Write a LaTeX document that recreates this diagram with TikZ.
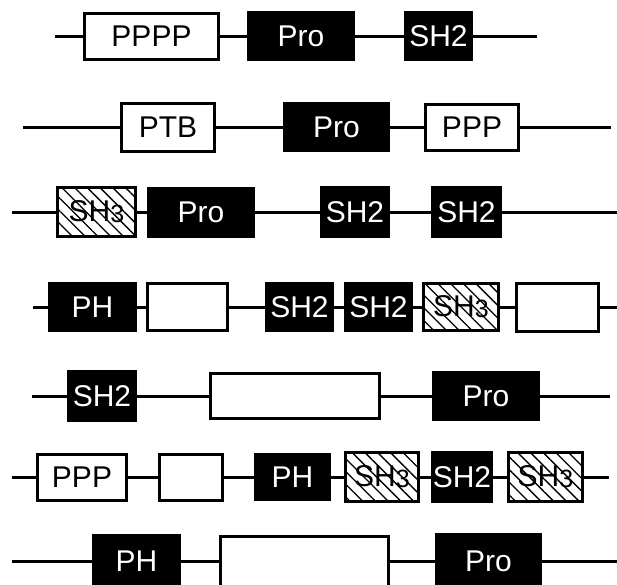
\documentclass[tikz,border=0pt]{standalone}
\usepackage{fontspec}
\setmainfont{Liberation Sans}
\usetikzlibrary{patterns.meta}
\newlength{\du}
\setlength{\du}{1pt}
\newcommand{\domfont}{\fontsize{30}{32}\selectfont}
\newcommand{\shthree}{SH\raisebox{-1\du}{\fontsize{25}{26}\selectfont 3}}
\tikzset{
  boxsize/.style 2 args={minimum width=#1\du, minimum height=#2\du},
  openbox/.style={draw=black, line width=3\du, fill=white, inner sep=0pt, text=black, font=\domfont},
  darkbox/.style={openbox, fill=black, text=white},
  hatchbox/.style={openbox, preaction={fill=white}, pattern={Lines[angle=-45,distance=9pt,line width=1.3pt]}, pattern color=black},
  backbone/.style={draw=black, line width=3\du}
}

\begin{document}
\begin{tikzpicture}
\pgftransformxscale{1.000000}
\pgftransformyscale{-1.000000}
\useasboundingbox (0.000000\du,0.000000\du) rectangle (617.000000\du,584.000000\du);
\clip (0.000000\du,0.000000\du) rectangle (617.000000\du,584.000000\du);
% row A
\node[openbox, boxsize={134}{46}] (ppppA) at (151.500000\du,36.000000\du){PPPP};
\node[darkbox, boxsize={105}{47}] (proA) at (301.000000\du,36.000000\du){Pro};
\node[darkbox, boxsize={66}{47}] (shtwoA) at (438.500000\du,36.000000\du){SH2};
\coordinate (startA) at (55.000000\du,36.000000\du);
\coordinate (endA) at (537.000000\du,36.000000\du);
\draw[backbone] (startA) -- (ppppA) -- (proA) -- (shtwoA) -- (endA);
% row B
\node[openbox, boxsize={93}{48}] (ptbB) at (168.000000\du,127.000000\du){PTB};
\node[darkbox, boxsize={104}{47}] (proB) at (336.500000\du,127.000000\du){Pro};
\node[openbox, boxsize={93}{46}] (pppB) at (472.000000\du,127.000000\du){PPP};
\coordinate (startB) at (23.000000\du,127.000000\du);
\coordinate (endB) at (611.000000\du,127.000000\du);
\draw[backbone] (startB) -- (ptbB) -- (proB) -- (pppB) -- (endB);
% row C
\node[hatchbox, boxsize={78}{49}] (shthreeC) at (96.500000\du,212.000000\du){\shthree};
\node[darkbox, boxsize={105}{48}] (proC) at (201.000000\du,212.000000\du){Pro};
\node[darkbox, boxsize={67}{49}] (shtwoC) at (355.000000\du,212.000000\du){SH2};
\node[darkbox, boxsize={68}{49}] (shtwoCC) at (466.500000\du,212.000000\du){SH2};
\coordinate (startC) at (12.000000\du,212.000000\du);
\coordinate (endC) at (620.000000\du,212.000000\du);
\draw[backbone] (startC) -- (shthreeC) -- (proC) -- (shtwoC) -- (shtwoCC) -- (endC);
% row D
\node[darkbox, boxsize={86}{47}] (phD) at (92.500000\du,307.000000\du){PH};
\node[openbox, boxsize={80}{47}] (emptyD) at (187.500000\du,307.000000\du){};
\node[darkbox, boxsize={66}{47}] (shtwoD) at (299.500000\du,307.000000\du){SH2};
\node[darkbox, boxsize={66}{47}] (shtwoDD) at (378.500000\du,307.000000\du){SH2};
\node[hatchbox, boxsize={75}{47}] (shthreeD) at (461.000000\du,307.000000\du){\shthree};
\node[openbox, boxsize={82}{48}] (emptyDD) at (557.500000\du,307.000000\du){};
\coordinate (startD) at (33.000000\du,307.000000\du);
\coordinate (endD) at (620.000000\du,307.000000\du);
\draw[backbone] (startD) -- (phD) -- (emptyD) -- (shtwoD) -- (shtwoDD) -- (shthreeD) -- (emptyDD) -- (endD);
% row E
\node[darkbox, boxsize={67}{49}] (shtwoE) at (102.000000\du,396.000000\du){SH2};
\node[openbox, boxsize={169}{45}] (emptyE) at (295.000000\du,396.000000\du){};
\node[darkbox, boxsize={105}{47}] (proE) at (486.000000\du,396.000000\du){Pro};
\coordinate (startE) at (32.000000\du,396.000000\du);
\coordinate (endE) at (610.000000\du,396.000000\du);
\draw[backbone] (startE) -- (shtwoE) -- (emptyE) -- (proE) -- (endE);
% row F
\node[openbox, boxsize={89}{46}] (pppF) at (82.000000\du,477.000000\du){PPP};
\node[openbox, boxsize={63}{46}] (emptyF) at (191.000000\du,477.000000\du){};
\node[darkbox, boxsize={74}{45}] (phF) at (292.500000\du,477.000000\du){PH};
\node[hatchbox, boxsize={73}{49}] (shthreeF) at (382.000000\du,477.000000\du){\shthree};
\node[darkbox, boxsize={59}{49}] (shtwoF) at (462.000000\du,477.000000\du){SH2};
\node[hatchbox, boxsize={74}{49}] (shthreeFF) at (545.500000\du,477.000000\du){\shthree};
\coordinate (startF) at (12.000000\du,477.000000\du);
\coordinate (endF) at (609.000000\du,477.000000\du);
\draw[backbone] (startF) -- (pppF) -- (emptyF) -- (phF) -- (shthreeF) -- (shtwoF) -- (shthreeFF) -- (endF);
% row G
\node[darkbox, boxsize={86}{51}] (phG) at (136.500000\du,561.000000\du){PH};
\node[openbox, boxsize={168}{50}] (emptyG) at (304.500000\du,561.000000\du){};
\node[darkbox, boxsize={104}{54}] (proG) at (488.500000\du,561.000000\du){Pro};
\coordinate (startG) at (12.000000\du,561.000000\du);
\coordinate (endG) at (620.000000\du,561.000000\du);
\draw[backbone] (startG) -- (phG) -- (emptyG) -- (proG) -- (endG);
\end{tikzpicture}
\end{document}
